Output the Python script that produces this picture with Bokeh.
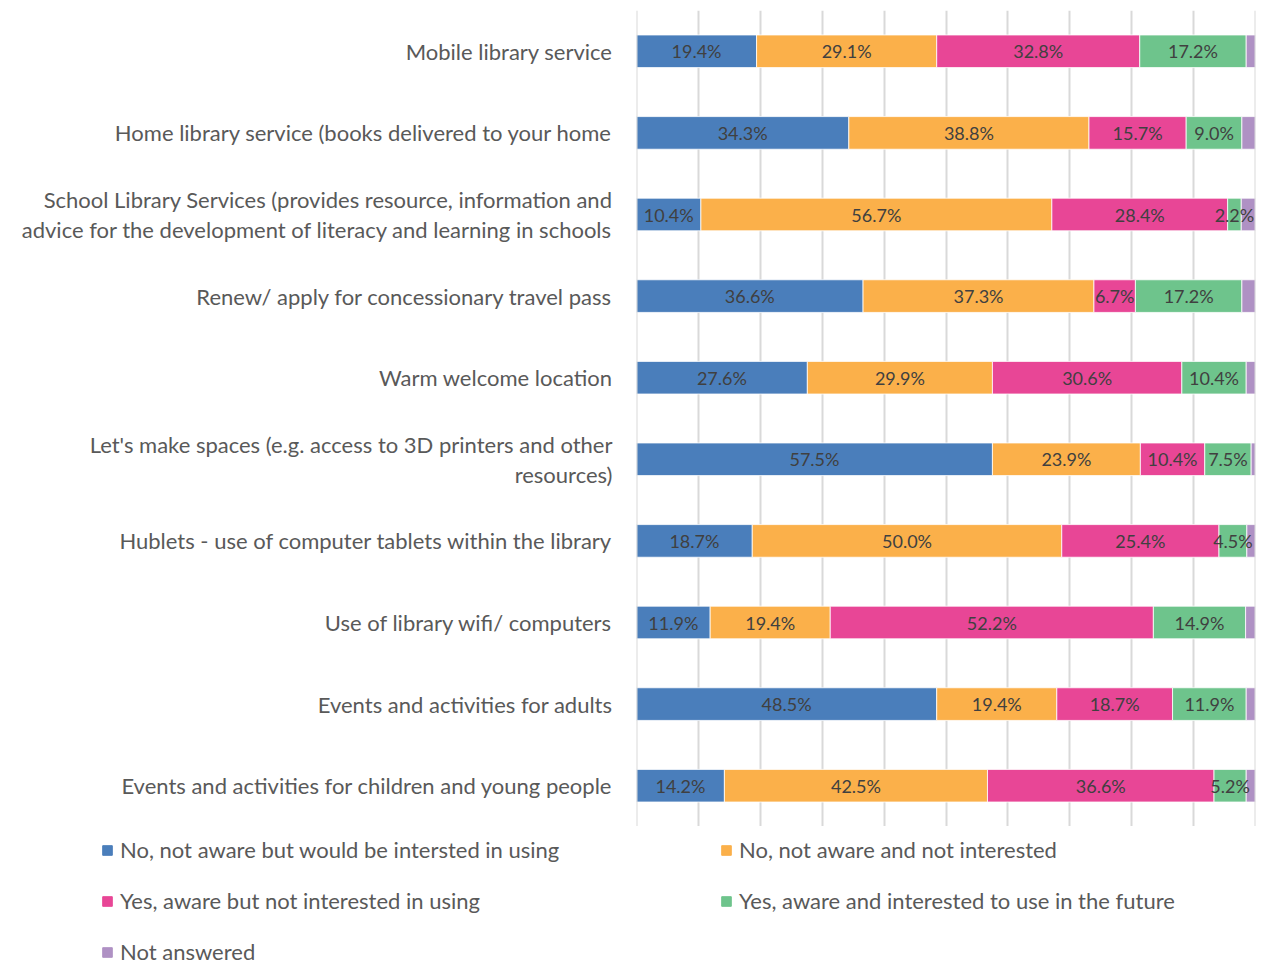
from bokeh.plotting import figure
from bokeh.layouts import column
from bokeh.models import ColumnDataSource, FactorRange, Range1d, FixedTicker, Legend, LegendItem, Span
from bokeh.core.properties import value
from bokeh.embed import file_html
from bokeh.resources import INLINE
import numpy as np

categories = [
    "Mobile library service",
    "Home library service (books delivered to your home",
    "School Library Services (provides resource, information and\nadvice for the development of literacy and learning in schools",
    "Renew/ apply for concessionary travel pass",
    "Warm welcome location",
    "Let's make spaces (e.g. access to 3D printers and other\nresources)",
    "Hublets - use of computer tablets within the library",
    "Use of library wifi/ computers",
    "Events and activities for adults",
    "Events and activities for children and young people",
]
series_names = [
    "No, not aware but would be intersted in using",
    "No, not aware and not interested",
    "Yes, aware but not interested in using",
    "Yes, aware and interested to use in the future",
    "Not answered",
]
not_aware_interested = [19.4, 34.3, 10.4, 36.6, 27.6, 57.5, 18.7, 11.9, 48.5, 14.2]
not_aware_not_interested = [29.1, 38.8, 56.7, 37.3, 29.9, 23.9, 50.0, 19.4, 19.4, 42.5]
aware_not_interested = [32.8, 15.7, 28.4, 6.7, 30.6, 10.4, 25.4, 52.2, 18.7, 36.6]
aware_interested = [17.2, 9.0, 2.2, 17.2, 10.4, 7.5, 4.5, 14.9, 11.9, 5.2]
not_answered = [1.5, 2.2, 2.3, 2.2, 1.5, 0.7, 1.4, 1.6, 1.5, 1.5]
colors = ["#4A7EBB", "#FBB04A", "#E84696", "#6EC48C", "#AF91C4"]
x_ticks = [0, 10, 20, 30, 40, 50, 60, 70, 80, 90, 100]

keys = ["s0", "s1", "s2", "s3", "s4"]
series = [not_aware_interested, not_aware_not_interested, aware_not_interested, aware_interested, not_answered]
data = {"cat": categories}
for k, s in zip(keys, series):
    data[k] = s
source = ColumnDataSource(data)

FONT = "Lato"
GRID = "#D9D9D9"
p = figure(
    y_range=FactorRange(factors=list(reversed(categories))),
    x_range=Range1d(x_ticks[0], x_ticks[-1]),
    frame_width=619, frame_height=816,
    min_border_left=636, min_border_right=13, min_border_top=10, min_border_bottom=0,
    output_backend="svg", toolbar_location=None, tools="",
    outline_line_color=None,
)
p.frame_align = False

# grid lines (incl. the 0% and 100% edges)
p.xgrid.ticker = FixedTicker(ticks=x_ticks)
p.xgrid.grid_line_color = GRID
p.xgrid.grid_line_width = 2
p.ygrid.grid_line_color = None
for t in (x_ticks[0], x_ticks[-1]):
    p.add_layout(Span(location=t, dimension="height", line_color=GRID, line_width=2))

renderers = p.hbar_stack(keys, y="cat", height=0.4, color=colors, source=source,
                         line_color="white", line_width=0.8)

# data labels (centre of each segment, first four series)
arr = np.array(series, dtype=float)
cum = np.cumsum(arr, axis=0)
lx, ly, lt = [], [], []
for i in range(4):
    for j, c in enumerate(categories):
        lx.append(cum[i, j] - arr[i, j] / 2)
        ly.append(c)
        lt.append(f"{arr[i, j]:.1f}%")
lsrc = ColumnDataSource(dict(x=lx, y=ly, t=lt))
p.text(x="x", y="y", text="t", source=lsrc, text_align="center", text_baseline="middle",
       text_color="#404040", text_font_size="18px", text_font=value(FONT))

# axes
p.xaxis.visible = False
p.yaxis.axis_line_color = None
p.yaxis.major_tick_line_color = None
p.yaxis.minor_tick_line_color = None
p.yaxis.major_tick_out = 0
p.yaxis.major_label_standoff = 24
p.yaxis.major_label_text_font = FONT
p.yaxis.major_label_text_font_size = "22px"
p.yaxis.major_label_text_color = "#595959"
p.yaxis.major_label_text_line_height = 1.1

# legend in its own strip below the chart (same series, hidden glyphs)
lg = figure(width=1268, height=141, x_range=Range1d(0, 1),
            y_range=FactorRange(factors=list(reversed(categories))),
            min_border=0, output_backend="svg", toolbar_location=None, tools="",
            outline_line_color=None)
lg.frame_align = False
lg.axis.visible = False
lg.grid.grid_line_color = None
leg_r = lg.hbar_stack(keys, y="cat", height=0.4, color=colors, source=source)
for r in leg_r:
    r.visible = False

legend = Legend(
    items=[LegendItem(label=n, renderers=[r]) for n, r in zip(series_names, leg_r)],
    location=(101, 2),
    orientation="horizontal", ncols=2,
    glyph_width=12, glyph_height=12, label_standoff=7,
    label_width=576, label_height=26, spacing=24,
    padding=0, margin=0, click_policy="none",
    inactive_fill_alpha=0,
    border_line_color=None, background_fill_alpha=0,
    label_text_font=FONT, label_text_font_size="22px", label_text_color="#595959",
)
lg.add_layout(legend, "center")

open("out.html", "w").write(file_html(column(p, lg), INLINE))
